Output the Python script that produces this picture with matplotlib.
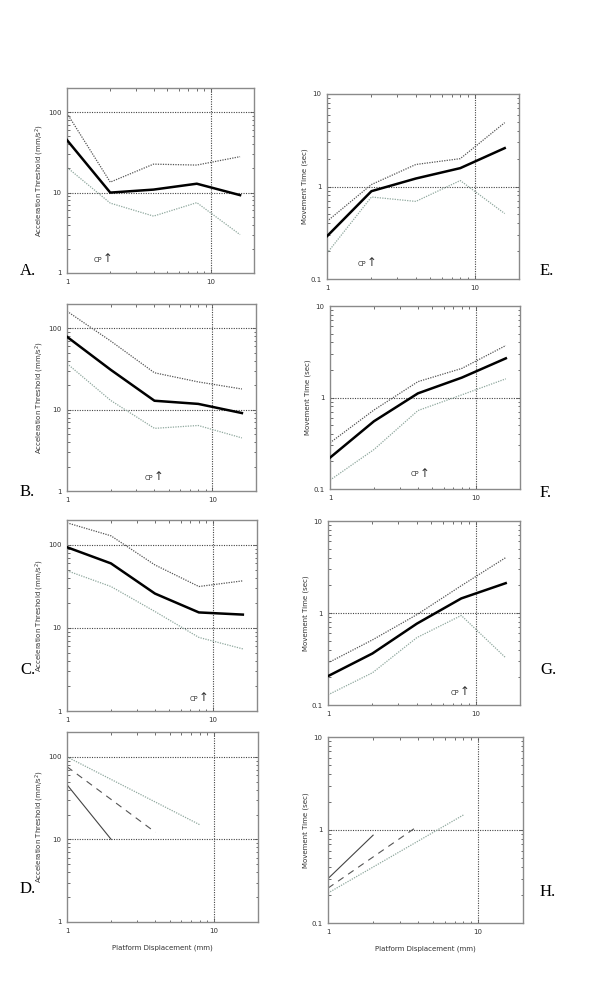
import matplotlib
matplotlib.use("Agg")
import matplotlib.pyplot as plt
from matplotlib.ticker import LogLocator, FixedLocator, NullFormatter, FixedFormatter

# ---------------- data ----------------
disp = [1, 2, 4, 8, 16]

# Acceleration threshold (mm/s^2): mean, upper, lower
A_mean = [45, 10, 10.9, 12.9, 9.3]
A_up = [97, 13.5, 22.6, 22, 28]
A_lo = [20.6, 7.4, 5.1, 7.5, 3.0]

B_mean = [79, 31, 12.9, 11.8, 9.1]
B_up = [163, 70, 28.5, 22, 18]
B_lo = [37, 13, 5.9, 6.4, 4.5]

C_mean = [94, 60, 26, 15.4, 14.5]
C_up = [185, 129, 57.5, 31.6, 37]
C_lo = [49, 31.6, 15.8, 7.7, 5.6]

# Movement time (sec): mean, upper, lower
E_mean = [0.29, 0.89, 1.22, 1.58, 2.6]
E_up = [0.42, 1.05, 1.73, 2.0, 4.9]
E_lo = [0.19, 0.77, 0.69, 1.16, 0.51]

F_mean = [0.22, 0.55, 1.11, 1.65, 2.68]
F_up = [0.32, 0.73, 1.49, 2.08, 3.7]
F_lo = [0.125, 0.27, 0.72, 1.07, 1.6]

G_mean = [0.206, 0.363, 0.766, 1.44, 2.11]
G_up = [0.287, 0.51, 0.96, 1.98, 4.0]
G_lo = [0.129, 0.224, 0.54, 0.94, 0.326]

# Fitted lines (panels D and H)
D_solid_x = [1, 2]
D_solid = [46, 10]
D_dash_x = [1, 4]
D_dash = [76, 12.2]
D_dot_x = [1, 8]
D_dot = [100, 15.1]

H_solid_x = [1, 2]
H_solid = [0.30, 0.88]
H_dash_x = [1, 4]
H_dash = [0.237, 1.11]
H_dot_x = [1, 8]
H_dot = [0.21, 1.45]

# Critical point (CP) marker positions
cp_A = (1.75, 1.45)
cp_B = (3.9, 1.45)
cp_C = (7.9, 1.4)
cp_E = (1.85, 0.145)
cp_F = (4.1, 0.145)
cp_G = (7.7, 0.135)

acc_label = "Acceleration Threshold (mm/s$^2$)"
mt_label = "Movement Time (sec)"
x_label = "Platform Displacement (mm)"

# ---------------- style ----------------
W, H = 600, 982
fig = plt.figure(figsize=(W / 100, H / 100), dpi=100)
fig.patch.set_facecolor("white")

FRAME = "#8a8a8a"
UPC = "#555555"
LOC = "#8fa89e"
GRIDC = "#444444"
TICKFS = 5.0


def box(l, r, t, b):
    return [l / W, 1 - b / H, (r - l) / W, (b - t) / H]


def setup(ax, kind, xlabel=False):
    ax.set_xscale("log")
    ax.set_yscale("log")
    ax.set_xlim(1, 20)
    if kind == "acc":
        ax.set_ylim(1, 200)
        ax.yaxis.set_major_locator(FixedLocator([1, 10, 100]))
        ax.yaxis.set_major_formatter(FixedFormatter(["1", "10", "100"]))
        ax.set_ylabel(acc_label, fontsize=5.0, color="#333333", labelpad=1.5)
        gy = [10, 100]
    else:
        ax.set_ylim(0.1, 10)
        ax.yaxis.set_major_locator(FixedLocator([0.1, 1, 10]))
        ax.yaxis.set_major_formatter(FixedFormatter(["0.1", "1", "10"]))
        ax.set_ylabel(mt_label, fontsize=5.0, color="#333333", labelpad=1.5)
        gy = [1]
    ax.xaxis.set_major_locator(FixedLocator([1, 10]))
    ax.xaxis.set_major_formatter(FixedFormatter(["1", "10"]))
    ax.xaxis.set_minor_locator(LogLocator(base=10, subs=range(2, 10)))
    ax.yaxis.set_minor_locator(LogLocator(base=10, subs=range(2, 10)))
    ax.xaxis.set_minor_formatter(NullFormatter())
    ax.yaxis.set_minor_formatter(NullFormatter())
    ax.tick_params(which="both", direction="in", top=True, right=True,
                   colors="#555555", labelcolor="#333333", labelsize=TICKFS,
                   width=0.6)
    ax.tick_params(which="major", length=3, pad=4)
    ax.tick_params(which="minor", length=1.8)
    for s in ax.spines.values():
        s.set_color(FRAME)
        s.set_linewidth(1.0)
    for g in gy:
        ax.axhline(g, color=GRIDC, lw=0.8, ls=(0, (1, 1.2)), zorder=1)
    ax.axvline(10, color=GRIDC, lw=0.8, ls=(0, (1, 1.2)), zorder=1)
    if xlabel:
        ax.set_xlabel(x_label, fontsize=5.0, color="#333333", labelpad=8)


def band(ax, mean, up, lo):
    ax.plot(disp, up, color=UPC, lw=0.9, ls=(0, (1, 1)), zorder=2)
    ax.plot(disp, lo, color=LOC, lw=0.9, ls=(0, (1, 1)), zorder=2)
    ax.plot(disp, mean, color="black", lw=1.8, zorder=3)


def cp(ax, pos):
    ax.text(pos[0], pos[1], "CP", fontsize=4.8, ha="right", va="center",
            color="#333333")
    ax.text(pos[0] * 1.01, pos[1] * 1.03, "\u2191", fontsize=8.5, ha="left",
            va="center", color="#333333")


def panel_label(x, y, s):
    fig.text(x / W, 1 - y / H, s, fontsize=12, family="Liberation Serif",
             ha="left", va="baseline", color="black")


axA = fig.add_axes(box(67, 254, 88, 273))
setup(axA, "acc")
band(axA, A_mean, A_up, A_lo)
cp(axA, cp_A)

axE = fig.add_axes(box(327, 519, 94, 279))
setup(axE, "mt")
band(axE, E_mean, E_up, E_lo)
cp(axE, cp_E)

axB = fig.add_axes(box(67, 256, 304, 491))
setup(axB, "acc")
band(axB, B_mean, B_up, B_lo)
cp(axB, cp_B)

axF = fig.add_axes(box(330, 520, 306, 489))
setup(axF, "mt")
band(axF, F_mean, F_up, F_lo)
cp(axF, cp_F)

axC = fig.add_axes(box(67, 257, 520, 711))
setup(axC, "acc")
band(axC, C_mean, C_up, C_lo)
cp(axC, cp_C)

axG = fig.add_axes(box(328, 520, 521, 705))
setup(axG, "mt")
band(axG, G_mean, G_up, G_lo)
cp(axG, cp_G)

axD = fig.add_axes(box(67, 258, 732, 922))
setup(axD, "acc", xlabel=True)
axD.plot(D_solid_x, D_solid, color="#444444", lw=0.8)
axD.plot(D_dash_x, D_dash, color="#555555", lw=0.8, ls=(0, (6, 5)))
axD.plot(D_dot_x, D_dot, color=LOC, lw=0.9, ls=(0, (1, 1)))

axH = fig.add_axes(box(328, 523, 737, 923))
setup(axH, "mt", xlabel=True)
axH.plot(H_solid_x, H_solid, color="#444444", lw=0.8)
axH.plot(H_dash_x, H_dash, color="#555555", lw=0.8, ls=(0, (6, 5)))
axH.plot(H_dot_x, H_dot, color=LOC, lw=0.9, ls=(0, (1, 1)))

panel_label(20, 275, "A.")
panel_label(540, 275, "E.")
panel_label(20, 496, "B.")
panel_label(540, 497, "F.")
panel_label(20, 674, "C.")
panel_label(540, 674, "G.")
panel_label(20, 893, "D.")
panel_label(540, 896, "H.")

fig.savefig("out.png", dpi=100)
